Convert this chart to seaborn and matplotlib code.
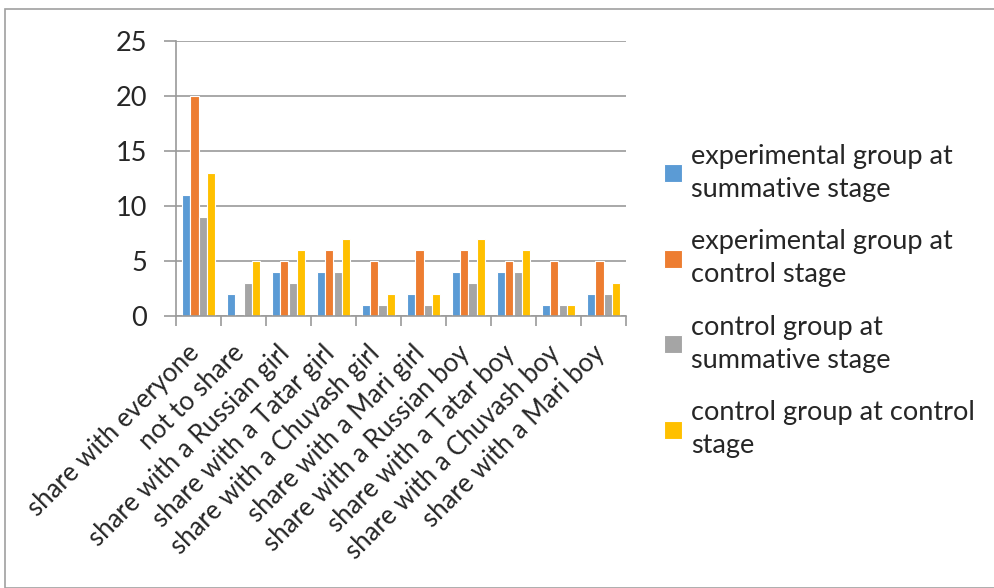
import numpy as np
import pandas as pd
import matplotlib
matplotlib.use("Agg")
import matplotlib.pyplot as plt
from matplotlib.patches import Rectangle
from matplotlib.transforms import ScaledTranslation
import seaborn as sns

# Data
categories = ["share with everyone", "not to share", "share with a Russian girl",
              "share with a Tatar girl", "share with a Chuvash girl", "share with a Mari girl",
              "share with a Russian boy", "share with a Tatar boy", "share with a Chuvash boy",
              "share with a Mari boy"]
exp_summative = [11, 2, 4, 4, 1, 2, 4, 4, 1, 2]
exp_control = [20, 0, 5, 6, 5, 6, 6, 5, 5, 5]
ctrl_summative = [9, 3, 3, 4, 1, 1, 3, 4, 1, 2]
ctrl_control = [13, 5, 6, 7, 2, 2, 7, 6, 1, 3]
series_names = ["experimental group at\nsummative stage",
                "experimental group at\ncontrol stage",
                "control group at\nsummative stage",
                "control group at control\nstage"]
colors = ["#5B9BD5", "#ED7D31", "#A5A5A5", "#FFC000"]

rows = []
for name, vals in zip(series_names, [exp_summative, exp_control, ctrl_summative, ctrl_control]):
    for c, v in zip(categories, vals):
        rows.append({"category": c, "series": name, "value": v})
df = pd.DataFrame(rows)

sns.set_style("white")
plt.rcParams["font.family"] = ["Lato", "DejaVu Sans"]

fig = plt.figure(figsize=(9.95, 5.88), dpi=100)
ax = fig.add_axes([176 / 995, 1 - 316 / 588, 450 / 995, 275 / 588])

sns.barplot(data=df, x="category", y="value", hue="series", palette=colors,
            saturation=1, width=0.73, edgecolor="white", linewidth=0.8, ax=ax)

ax.set_ylim(0, 25)
ax.set_xlim(-0.5, len(categories) - 0.5)
ax.set_yticks(range(0, 26, 5))
ax.yaxis.grid(True, color="#9a9a9a", linewidth=1.2)
ax.set_axisbelow(True)
for s in ["top", "right"]:
    ax.spines[s].set_visible(False)
for s in ["left", "bottom"]:
    ax.spines[s].set_color("#9a9a9a")
    ax.spines[s].set_linewidth(1.2)

ax.tick_params(axis="y", length=9, color="#9a9a9a", width=1.2, labelsize=19.5, pad=12, left=True)
ax.set_xticks(range(len(categories)))
ax.set_xticklabels(categories, rotation=45, ha="right", va="center",
                   rotation_mode="anchor", fontsize=18.5)
ax.tick_params(axis="x", which="major", length=0, pad=24)
ax.set_xticks(np.arange(-0.5, len(categories), 1), minor=True)
ax.tick_params(axis="x", which="minor", length=7, color="#9a9a9a", width=1.2, bottom=True)
ax.set_xlabel("")
ax.set_ylabel("")

# small horizontal nudge for the rotated labels
for lab in ax.get_xticklabels():
    lab.set_transform(lab.get_transform() + ScaledTranslation(-3 / 100, 0, fig.dpi_scale_trans))

leg = ax.legend(loc="center left", bbox_to_anchor=(640 / 995, 1 - 301 / 588), bbox_transform=fig.transFigure,
                frameon=False, fontsize=19.5, handlelength=0.65, handleheight=0.65,
                labelspacing=1.0, handletextpad=0.35)
for t in leg.get_texts():
    t.set_linespacing(1.42)

fig.patches.append(Rectangle((5 / 995, 0), 1, 1 - 9 / 588, transform=fig.transFigure,
                             fill=False, edgecolor="#a0a0a0", linewidth=1.2))

fig.savefig("out.png", dpi=100)
